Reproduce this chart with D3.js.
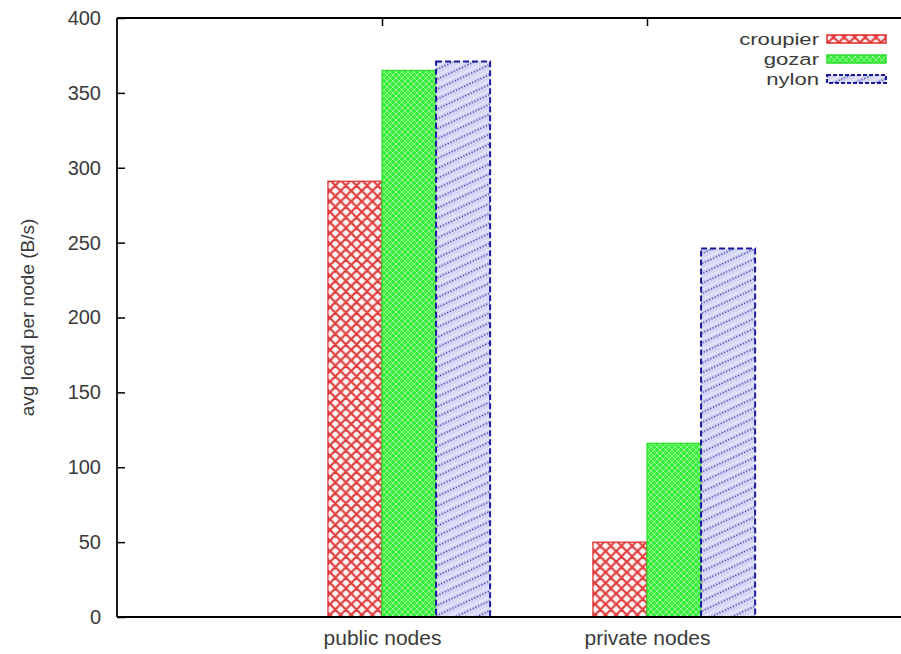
<!DOCTYPE html>
<html><head><meta charset="utf-8">
<script src="https://cdn.jsdelivr.net/npm/d3@7/dist/d3.min.js"></script>
<style>body{margin:0;background:#fff}svg{display:block}text{font-family:"Liberation Sans",Arial,sans-serif;fill:#3a3a3a}</style>
</head><body><div id="chart"></div>
<script>
const categories = ["public nodes", "private nodes"];
const seriesNames = ["croupier", "gozar", "nylon"];
const croupier = [291, 50];
const gozar = [365, 116];
const nylon = [371, 246];
const yTicks = [0, 50, 100, 150, 200, 250, 300, 350, 400];
const yLabel = "avg load per node (B/s)";

const W = 901, H = 654;
const svg = d3.select("#chart").append("svg").attr("width", W).attr("height", H);
const defs = svg.append("defs");

// patterns
const pr = defs.append("pattern").attr("id","pRed").attr("patternUnits","userSpaceOnUse")
  .attr("width",10.6).attr("height",10.6).attr("x",330).attr("y",0);
pr.append("rect").attr("width",10.6).attr("height",10.6).attr("fill","#fff4f4");
pr.append("path").attr("d","M0,0L10.6,10.6M10.6,0L0,10.6M-2,8.6L2,12.6M8.6,-2L12.6,2M-2,2L2,-2M8.6,12.6L12.6,8.6")
  .attr("stroke","#e03c3c").attr("stroke-width",2.2);

const pg = defs.append("pattern").attr("id","pGreen").attr("patternUnits","userSpaceOnUse").attr("width",6).attr("height",6);
pg.append("rect").attr("width",6).attr("height",6).attr("fill","#3cec3c");
pg.append("path").attr("d","M0,0L6,6M6,0L0,6").attr("stroke","#9af59a").attr("stroke-width",0.9);

const pb = defs.append("pattern").attr("id","pBlue").attr("patternUnits","userSpaceOnUse")
  .attr("width",9).attr("height",9).attr("patternTransform","rotate(-25)");
pb.append("rect").attr("width",9).attr("height",9).attr("fill","#d6d6f6");
pb.append("line").attr("x1",0).attr("y1",4.5).attr("x2",9).attr("y2",4.5)
  .attr("stroke","#34349e").attr("stroke-width",1.3).attr("stroke-dasharray","1.3,1.7");
pb.append("line").attr("x1",0).attr("y1",1).attr("x2",9).attr("y2",1)
  .attr("stroke","#eeeeff").attr("stroke-width",1);

const fills = ["url(#pRed)","url(#pGreen)","url(#pBlue)"];
const strokes = ["#e02a2a","#2add2a","#1a1a9e"];
const dashes = [null, null, "6,3"];
const widths = [1.2, 1.2, 2];

// scales: gnuplot-like coordinates, categories at 0 and 1, xrange [-1, 2]
const x = d3.scaleLinear().domain([-1, 2]).range([117, 912]);
const y = d3.scaleLinear().domain([0, 400]).range([617, 18]);
const bw = 0.204;
const offsets = [-bw, 0, bw];

const series = [croupier, gozar, nylon];
series.forEach((vals, s) => {
  svg.append("g").selectAll("rect").data(vals).join("rect")
    .attr("x", (d,i) => x(i + offsets[s]))
    .attr("width", x(bw) - x(0))
    .attr("y", d => y(d))
    .attr("height", d => y(0) - y(d))
    .attr("fill", fills[s])
    .attr("stroke", strokes[s])
    .attr("stroke-width", widths[s])
    .attr("stroke-dasharray", dashes[s]);
});

// Axes frame
const frame = svg.append("g").attr("stroke","#000").attr("stroke-width",1.8);
frame.append("line").attr("x1",x(-1)).attr("x2",x(2)).attr("y1",y(0)).attr("y2",y(0));
frame.append("line").attr("x1",x(-1)).attr("x2",x(2)).attr("y1",y(400)).attr("y2",y(400));
frame.append("line").attr("x1",x(-1)).attr("x2",x(-1)).attr("y1",y(0)).attr("y2",y(400));

// y axis with inward ticks
const yAxis = d3.axisLeft(y).tickValues(yTicks).tickSize(-8).tickPadding(16).tickFormat(d3.format("d"));
const gy = svg.append("g").attr("transform",`translate(${x(-1)},0)`).call(yAxis);
gy.select(".domain").remove();
gy.selectAll(".tick line").attr("stroke","#000").attr("stroke-width",1.5);
gy.selectAll(".tick text").attr("font-size",20).attr("fill","#3a3a3a").attr("font-family","Liberation Sans, Arial, sans-serif");

// x axis labels
const gx = svg.append("g").attr("transform",`translate(0,${y(0)})`)
  .call(d3.axisBottom(x).tickValues([0,1]).tickSize(0).tickPadding(13).tickFormat(i => categories[i]));
gx.select(".domain").remove();
gx.selectAll(".tick text").attr("font-size",21).attr("fill","#3a3a3a").attr("font-family","Liberation Sans, Arial, sans-serif");

// top mirrored ticks
const gt = svg.append("g").attr("transform",`translate(0,${y(400)})`)
  .call(d3.axisTop(x).tickValues([0,1]).tickSize(-8).tickFormat(""));
gt.select(".domain").remove();
gt.selectAll(".tick line").attr("stroke","#000").attr("stroke-width",1.5);

// y label
svg.append("text").attr("transform",`translate(34,${(y(0)+y(400))/2}) rotate(-90)`)
  .attr("text-anchor","middle").attr("font-size",19).text(yLabel);

// legend
const leg = svg.append("g");
seriesNames.forEach((n, i) => {
  const cy = 39 + i * 20;
  leg.append("text").attr("transform", `translate(819,${cy + 6}) scale(1.3,1)`)
    .attr("text-anchor","end").attr("font-size",17).text(n);
  leg.append("rect").attr("x", 827).attr("y", cy - 4).attr("width", 59).attr("height", 8)
    .attr("fill", fills[i]).attr("stroke", strokes[i]).attr("stroke-width", i === 2 ? 2 : 1.5).attr("stroke-dasharray", i === 2 ? "4,2" : null);
});
</script></body></html>
